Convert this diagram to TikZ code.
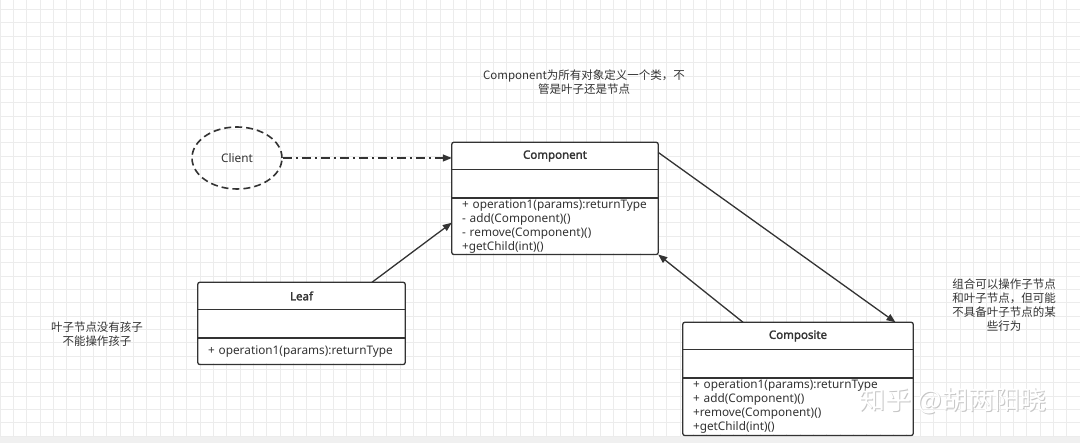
\documentclass[tikz,border=0pt]{standalone}
\usepackage{fontspec}
\setmainfont{Noto Sans}
\newfontfamily\hdrfont{Noto Sans}[FakeBold=2]
\newfontfamily\cjk{Noto Sans CJK SC}
\definecolor{umlline}{HTML}{333333}
\definecolor{umltext}{HTML}{333333}
\definecolor{gridgray}{HTML}{ECECEC}
\definecolor{barflat}{HTML}{F0F0F0}
\usetikzlibrary{positioning,arrows.meta,shapes.geometric}

\begin{document}
\begin{tikzpicture}[
  x=1pt, y=-1pt,
  font=\fontsize{11.8}{14}\selectfont, text=umltext,
  gridline/.style={draw=gridgray, line width=0.6pt},
  hdr/.style={minimum height=27pt, inner sep=0pt, font=\hdrfont\fontsize{11.5}{14}\selectfont},
  attr/.style={minimum height=28pt, inner sep=0pt},
  ops/.style={text width=#1, align=left, inner xsep=10pt, inner ysep=0pt, minimum height=56pt},
  clsbox/.style={draw=umlline, line width=1.3pt, rounded corners=2pt},
  sep/.style={draw=umlline, line width=1.3pt},
  client/.style={ellipse, draw=umlline, line width=1.6pt, dash pattern=on 7pt off 4pt, minimum width=90pt, minimum height=62pt, inner sep=0pt},
  arr/.style={-{Triangle[length=9pt, width=7pt]}, draw=umlline, line width=1.3pt},
  dashdot/.style={arr, dash pattern=on 9pt off 4pt on 2pt off 4pt},
  note/.style={font=\cjk\fontsize{11.5}{14}\selectfont, align=center, inner sep=0pt},
  wmark/.style={font=\cjk\fontsize{26}{28}\selectfont, inner sep=0pt},
]
  \useasboundingbox (0,0) rectangle (1080,443);
  \fill[white] (0,0) rectangle (1080,443);
  \foreach \gx in {0,...,81} \draw[gridline] (\gx*13.333,0) -- (\gx*13.333,437);
  \foreach \gy in {0,...,32} \draw[gridline] (0,9.33+\gy*13.333) -- (1080,9.33+\gy*13.333);
  \fill[barflat] (0,437) rectangle (1080,443);

  % Component
  \fill[white] (452,142) rectangle (658,253);
  \node[hdr, minimum width=206pt] (comp) at (555,156) {Component};
  \node[attr, minimum width=206pt, below=0pt of comp] (compattr) {};
  \node[ops=186pt, below=0pt of compattr] (compops) {+ operation1(params):returnType\\- add(Component)()\\- remove(Component)()\\+getChild(int)()};
  \draw[clsbox] (comp.north west) rectangle (compops.south east);
  \draw[sep] (comp.south west) -- (comp.south east);
  \draw[sep] (compattr.south west) -- (compattr.south east);

  % Leaf
  \fill[white] (198,282) rectangle (405,363);
  \node[hdr, minimum width=207pt] (leaf) at (301.5,296) {Leaf};
  \node[attr, minimum width=207pt, below=0pt of leaf] (leafattr) {};
  \node[ops=187pt, minimum height=26pt, below=0pt of leafattr] (leafops) {+ operation1(params):returnType};
  \draw[clsbox] (leaf.north west) rectangle (leafops.south east);
  \draw[sep] (leaf.south west) -- (leaf.south east);
  \draw[sep] (leafattr.south west) -- (leafattr.south east);

  % Composite
  \fill[white] (683,322) rectangle (913,434);
  \node[hdr, minimum width=230pt] (cmp) at (798,336) {Composite};
  \node[attr, minimum width=230pt, below=0pt of cmp] (cmpattr) {};
  \node[ops=210pt, minimum height=57pt, below=0pt of cmpattr] (cmpops) {+ operation1(params):returnType\\+ add(Component)()\\+remove(Component)()\\+getChild(int)()};
  \draw[clsbox] (cmp.north west) rectangle (cmpops.south east);
  \draw[sep] (cmp.south west) -- (cmp.south east);
  \draw[sep] (cmpattr.south west) -- (cmpattr.south east);

  % Client
  \node[client] (client) at (237,158) {Client};

  % notes
  \node[note] (rootnote) at (584,82.5) {Component为所有对象定义一个类，不\\管是叶子还是节点};
  \node[note] (leafnote) at (97,334) {叶子节点没有孩子\\不能操作孩子};
  \node[note] (cmpnote) at (1004,305) {组合可以操作子节点\\和叶子节点，但可能\\不具备叶子节点的某\\些行为};

  % connectors
  \draw[dashdot] (client.east) -- (client.east -| comp.west);
  \draw[arr] (leaf.11) -- (compops.178);
  \draw[arr] (cmp.166) -- (compops.south east);
  \draw[arr] (comp.2) -- (cmp.8);

  % watermark
  \node[wmark, text=gray!45] (wmshadow) at (954,402) {知乎 @胡两阳晓};
  \node[wmark, text=white] (wm) at (953,401) {知乎 @胡两阳晓};
\end{tikzpicture}
\end{document}
